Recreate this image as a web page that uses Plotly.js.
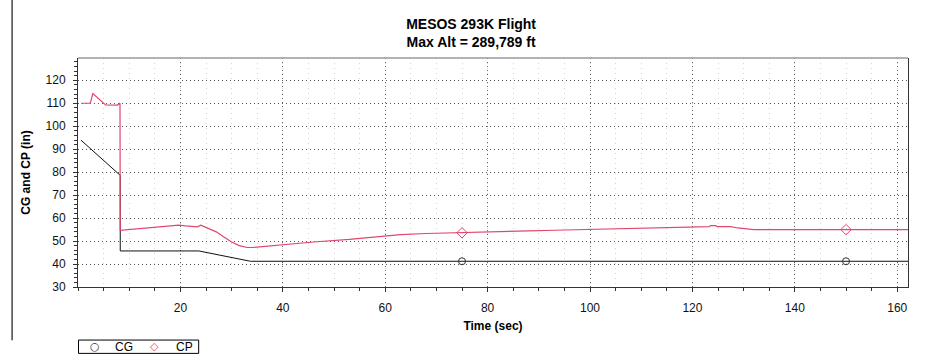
<!DOCTYPE html>
<html>
<head>
<meta charset="utf-8">
<script src="https://cdn.plot.ly/plotly-3.0.1.min.js"></script>
<style>html,body{margin:0;padding:0;background:#fff;}#chart{width:930px;height:360px;}</style>
</head>
<body>
<div id="chart"></div>
<script>
// ---- data ----
var cgTime = [0.6, 8.25, 8.25, 23.6, 33.7, 162.1];
var cgValue = [93.9, 78.6, 45.7, 45.7, 41.2, 41.2];

var cpTime = [0.6, 2.4, 2.9, 4.0, 5.4, 7.7, 8.2, 8.25, 12, 16, 19.7, 21, 23.3, 24, 25.5, 27, 28.5, 30, 31.5, 33, 34, 35.5, 40, 46, 53, 59, 63, 68, 73, 77, 82, 88, 93, 98, 104.5, 110, 115, 120, 123.3, 123.5, 124.6, 124.8, 127.5, 128.8, 130.7, 132, 162.1];
var cpValue = [110, 110, 114.2, 112, 109.3, 109.2, 110, 54.7, 55.5, 56.3, 56.9, 56.6, 56.2, 56.9, 55.6, 54, 51.8, 49.6, 48, 47.2, 47.2, 47.5, 48.5, 49.6, 50.7, 52, 52.8, 53.3, 53.5, 53.8, 54.1, 54.4, 54.7, 55, 55.4, 55.7, 56, 56.3, 56.3, 56.7, 56.7, 56.3, 56.3, 55.7, 55.4, 55, 55];

var markerTime = [75, 150];
var cgMarkerValue = [41.2, 41.2];
var cpMarkerValue = [53.6, 55];

var xTickVals = [20, 40, 60, 80, 100, 120, 140, 160];
var xTickText = ['20', '40', '60', '80', '100', '120', '140', '160'];
var seriesNames = ['CG', 'CP'];
var legendSymbols = ['\u25CB', '\u25C7'];

var titleText = 'MESOS 293K Flight<br>Max Alt = 289,789 ft';
var xTitle = 'Time (sec)';
var yTitle = 'CG and CP (in)';

// ---- styling ----
var cgColor = '#111111';
var cpColor = '#e2466e';
var FONT = 'Liberation Sans, Arial, sans-serif';

var traces = [
  {x: cgTime, y: cgValue, mode: 'lines', line: {color: cgColor, width: 1}, showlegend: false, hoverinfo: 'skip'},
  {x: cpTime, y: cpValue, mode: 'lines', line: {color: cpColor, width: 1.2}, showlegend: false, hoverinfo: 'skip'},
  {x: markerTime, y: cgMarkerValue, mode: 'markers', name: seriesNames[0], showlegend: false,
   marker: {symbol: 'circle-open', size: 7, color: '#333333', line: {width: 1}}},
  {x: markerTime, y: cpMarkerValue, mode: 'markers', name: seriesNames[1], showlegend: false,
   marker: {symbol: 'diamond-open', size: 8, color: cpColor, line: {width: 1}}}
];

// compact boxed legend below the plot (like the reference)
var legY = -0.2614;
var legendAnnotations = [
  {text: legendSymbols[0], x: 0.0199, color: '#333', size: 11},
  {text: seriesNames[0], x: 0.0554, color: '#000', size: 12},
  {text: legendSymbols[1], x: 0.0921, color: cpColor, size: 11},
  {text: seriesNames[1], x: 0.1282, color: '#000', size: 12}
].map(function (a) {
  return {text: a.text, xref: 'paper', yref: 'paper', x: a.x, y: legY, xanchor: 'center', yanchor: 'middle',
          showarrow: false, font: {family: a.size === 11 ? 'DejaVu Sans, sans-serif' : FONT, size: a.size, color: a.color}};
});

var layout = {
  width: 930, height: 360,
  margin: {l: 77.5, r: 21.7, t: 58.3, b: 73, pad: 0, autoexpand: false},
  paper_bgcolor: '#ffffff', plot_bgcolor: '#ffffff',
  font: {family: FONT, size: 12, color: '#000'},
  showlegend: false,
  title: {text: '<b>' + titleText + '</b>', x: 0.4736, xref: 'paper', xanchor: 'center',
          yref: 'paper', y: 1.0875, yanchor: 'bottom', pad: {b: 15},
          font: {family: FONT, size: 14, color: '#000'}},
  xaxis: {
    range: [0, 162.1], tickmode: 'array', tickvals: xTickVals, ticktext: xTickText,
    ticks: 'outside', ticklen: 4, tickcolor: '#333', tickwidth: 1, ticklabelstandoff: 6,
    showline: true, linecolor: '#333', linewidth: 1, mirror: false,
    showgrid: true, gridcolor: '#666', griddash: '1px,3px', gridwidth: 1,
    zeroline: false,
    minor: {tickmode: 'linear', tick0: 0, dtick: 5, ticks: 'outside', ticklen: 3, tickcolor: '#333',
            showgrid: true, gridcolor: '#d4d4d4', griddash: '1px,4px', gridwidth: 1},
    tickfont: {family: FONT, size: 12, color: '#111'},
    title: {text: '<b>' + xTitle + '</b>', standoff: 7, font: {family: FONT, size: 12, color: '#000'}}
  },
  yaxis: {
    range: [30, 129.7], tick0: 30, dtick: 10,
    ticks: 'outside', ticklen: 4, tickcolor: '#333', tickwidth: 1, ticklabelstandoff: 5,
    showline: true, linecolor: '#333', linewidth: 1, mirror: true,
    showgrid: true, gridcolor: '#555', griddash: '1px,3px', gridwidth: 1,
    zeroline: false,
    minor: {tickmode: 'linear', tick0: 30, dtick: 2, ticks: 'outside', ticklen: 3, tickcolor: '#333', showgrid: false},
    tickfont: {family: FONT, size: 12, color: '#111'},
    title: {text: '<b>' + yTitle + '</b>', standoff: 12, font: {family: FONT, size: 12, color: '#000'}}
  },
  xaxis2: {
    overlaying: 'x', matches: 'x', anchor: 'y', side: 'bottom', range: [0, 162.1],
    tickmode: 'array', tickvals: xTickVals, showticklabels: false,
    ticks: 'inside', ticklen: 4, tickcolor: '#333', showgrid: false, showline: false, zeroline: false,
    minor: {tickmode: 'linear', tick0: 0, dtick: 5, ticks: 'inside', ticklen: 3, tickcolor: '#333', showgrid: false}
  },
  yaxis2: {
    overlaying: 'y', matches: 'y', anchor: 'x', side: 'left', range: [30, 129.7],
    tick0: 30, dtick: 10, showticklabels: false,
    ticks: 'inside', ticklen: 4, tickcolor: '#333', showgrid: false, showline: false, zeroline: false,
    minor: {tickmode: 'linear', tick0: 30, dtick: 2, ticks: 'inside', ticklen: 3, tickcolor: '#333', showgrid: false}
  },
  annotations: legendAnnotations,
  shapes: [
    {type: 'line', xref: 'paper', yref: 'paper', x0: 0, x1: 1, y0: 1, y1: 1,
     line: {color: '#9a9a9a', width: 1.5}},
    {type: 'line', xref: 'paper', yref: 'paper', x0: -0.0794, x1: -0.0794, y0: 1.255, y1: -0.232,
     line: {color: '#444', width: 1.5}},
    {type: 'rect', xref: 'paper', yref: 'paper', x0: 0.0006, x1: 0.1454, y0: -0.2317, y1: -0.2899,
     line: {color: '#000', width: 1}, fillcolor: '#fff'}
  ]
};

Plotly.newPlot('chart', traces, layout, {staticPlot: true, displayModeBar: false});
</script>
</body>
</html>
